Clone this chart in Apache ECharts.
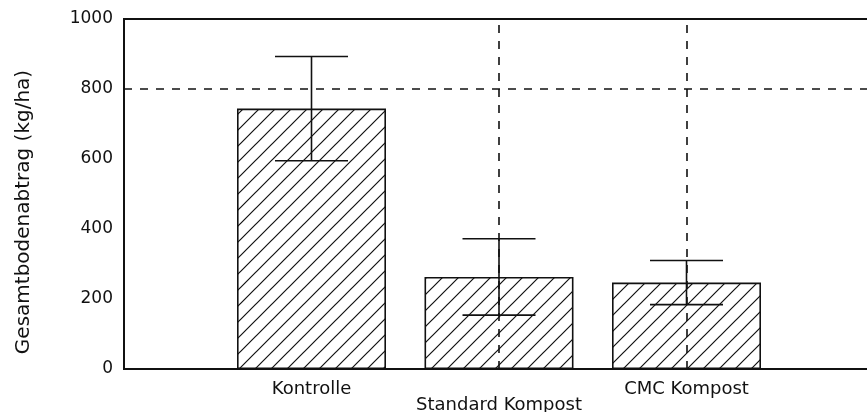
<!DOCTYPE html>
<html>
<head>
<meta charset="utf-8">
<title>Gesamtbodenabtrag</title>
<script src="https://cdn.jsdelivr.net/npm/echarts@6/dist/echarts.min.js"></script>
<style>
  html, body { margin: 0; padding: 0; background: #fff; }
  #chart { width: 867px; height: 412px; }
</style>
</head>
<body>
<div id="chart"></div>
<script>
// Treatments and soil loss (mean and standard deviation, kg/ha)
const categories = ['Kontrolle', 'Standard Kompost', 'CMC Kompost'];
const meanLoss = [744, 263, 247];
const sdLoss = [149, 109, 63];

// Y axis range and step
const yMin = 0;
const yMax = 1000;
const yStep = 200;

// Dashed reference lines
const refLineY = [800];
const refLinesX = ['Standard Kompost', 'CMC Kompost'];

// Category slots: empty slots at both ends leave room around the bars
const xSlots = [''].concat(categories, ['']);

// Diagonal hatch fill for the bars
function makeHatch() {
  const size = 16;
  const c = document.createElement('canvas');
  c.width = size;
  c.height = size;
  const ctx = c.getContext('2d');
  ctx.fillStyle = '#ffffff';
  ctx.fillRect(0, 0, size, size);
  ctx.strokeStyle = '#111111';
  ctx.lineWidth = 1.2;
  ctx.beginPath();
  ctx.moveTo(0, size); ctx.lineTo(size, 0);
  ctx.moveTo(-4, 4); ctx.lineTo(4, -4);
  ctx.moveTo(size - 4, size + 4); ctx.lineTo(size + 4, size - 4);
  ctx.stroke();
  return c;
}

const barData = categories.map((c, i) => [i + 1, meanLoss[i]]);
const errData = categories.map((c, i) => [i + 1, meanLoss[i] - sdLoss[i], meanLoss[i] + sdLoss[i]]);

const font = 'DejaVu Sans';
const ink = '#111111';

const chart = echarts.init(document.getElementById('chart'), null, { renderer: 'canvas' });

chart.setOption({
  animation: false,
  backgroundColor: '#ffffff',
  grid: {
    left: 124,
    top: 19,
    width: 750,
    height: 350,
    outerBoundsMode: 'none',
    containLabel: false,
    show: true,
    borderColor: ink,
    borderWidth: 2,
    backgroundColor: 'transparent'
  },
  xAxis: {
    type: 'category',
    data: xSlots,
    boundaryGap: false,
    axisLine: { show: false },
    axisTick: { show: false },
    splitLine: { show: false },
    axisLabel: {
      interval: 0,
      margin: 11,
      color: ink,
      fontFamily: font,
      fontSize: 18,
      formatter: function (v, i) {
        return i === 2 ? '{lo|' + v + '}' : v;
      },
      rich: {
        lo: { color: ink, fontFamily: font, fontSize: 18, padding: [16, 0, 0, 0] }
      }
    }
  },
  yAxis: {
    type: 'value',
    min: yMin,
    max: yMax,
    interval: yStep,
    name: 'Gesamtbodenabtrag (kg/ha)',
    nameLocation: 'middle',
    nameGap: 90,
    nameTextStyle: {
      color: ink,
      fontFamily: font,
      fontSize: 20,
      padding: [0, 36, 0, 0]
    },
    axisLine: { show: false },
    axisTick: { show: false },
    splitLine: { show: false },
    axisLabel: {
      margin: 11,
      color: ink,
      fontFamily: font,
      fontSize: 17,
      padding: [8, 0, 0, 0],
      formatter: function (v) { return String(v); }
    }
  },
  series: [
    {
      type: 'bar',
      data: barData,
      barWidth: 149,
      itemStyle: {
        color: { image: makeHatch(), repeat: 'repeat' },
        borderColor: ink,
        borderWidth: 1.6
      },
      markLine: {
        silent: true,
        symbol: 'none',
        label: { show: false },
        lineStyle: { color: ink, width: 1.6, type: [8, 8] },
        data: refLineY.map(v => ({ yAxis: v })).concat(refLinesX.map(v => ({ xAxis: v })))
      },
      z: 2
    },
    {
      type: 'custom',
      data: errData,
      encode: { x: 0, y: [1, 2] },
      z: 5,
      renderItem: function (params, api) {
        const x = api.value(0);
        const lo = api.coord([x, api.value(1)]);
        const hi = api.coord([x, api.value(2)]);
        const half = 36.5;
        const style = { stroke: ink, lineWidth: 1.6, fill: null };
        return {
          type: 'group',
          children: [
            { type: 'line', shape: { x1: hi[0], y1: hi[1], x2: lo[0], y2: lo[1] }, style: style },
            { type: 'line', shape: { x1: hi[0] - half, y1: hi[1], x2: hi[0] + half, y2: hi[1] }, style: style },
            { type: 'line', shape: { x1: lo[0] - half, y1: lo[1], x2: lo[0] + half, y2: lo[1] }, style: style }
          ]
        };
      }
    }
  ]
});
</script>
</body>
</html>
